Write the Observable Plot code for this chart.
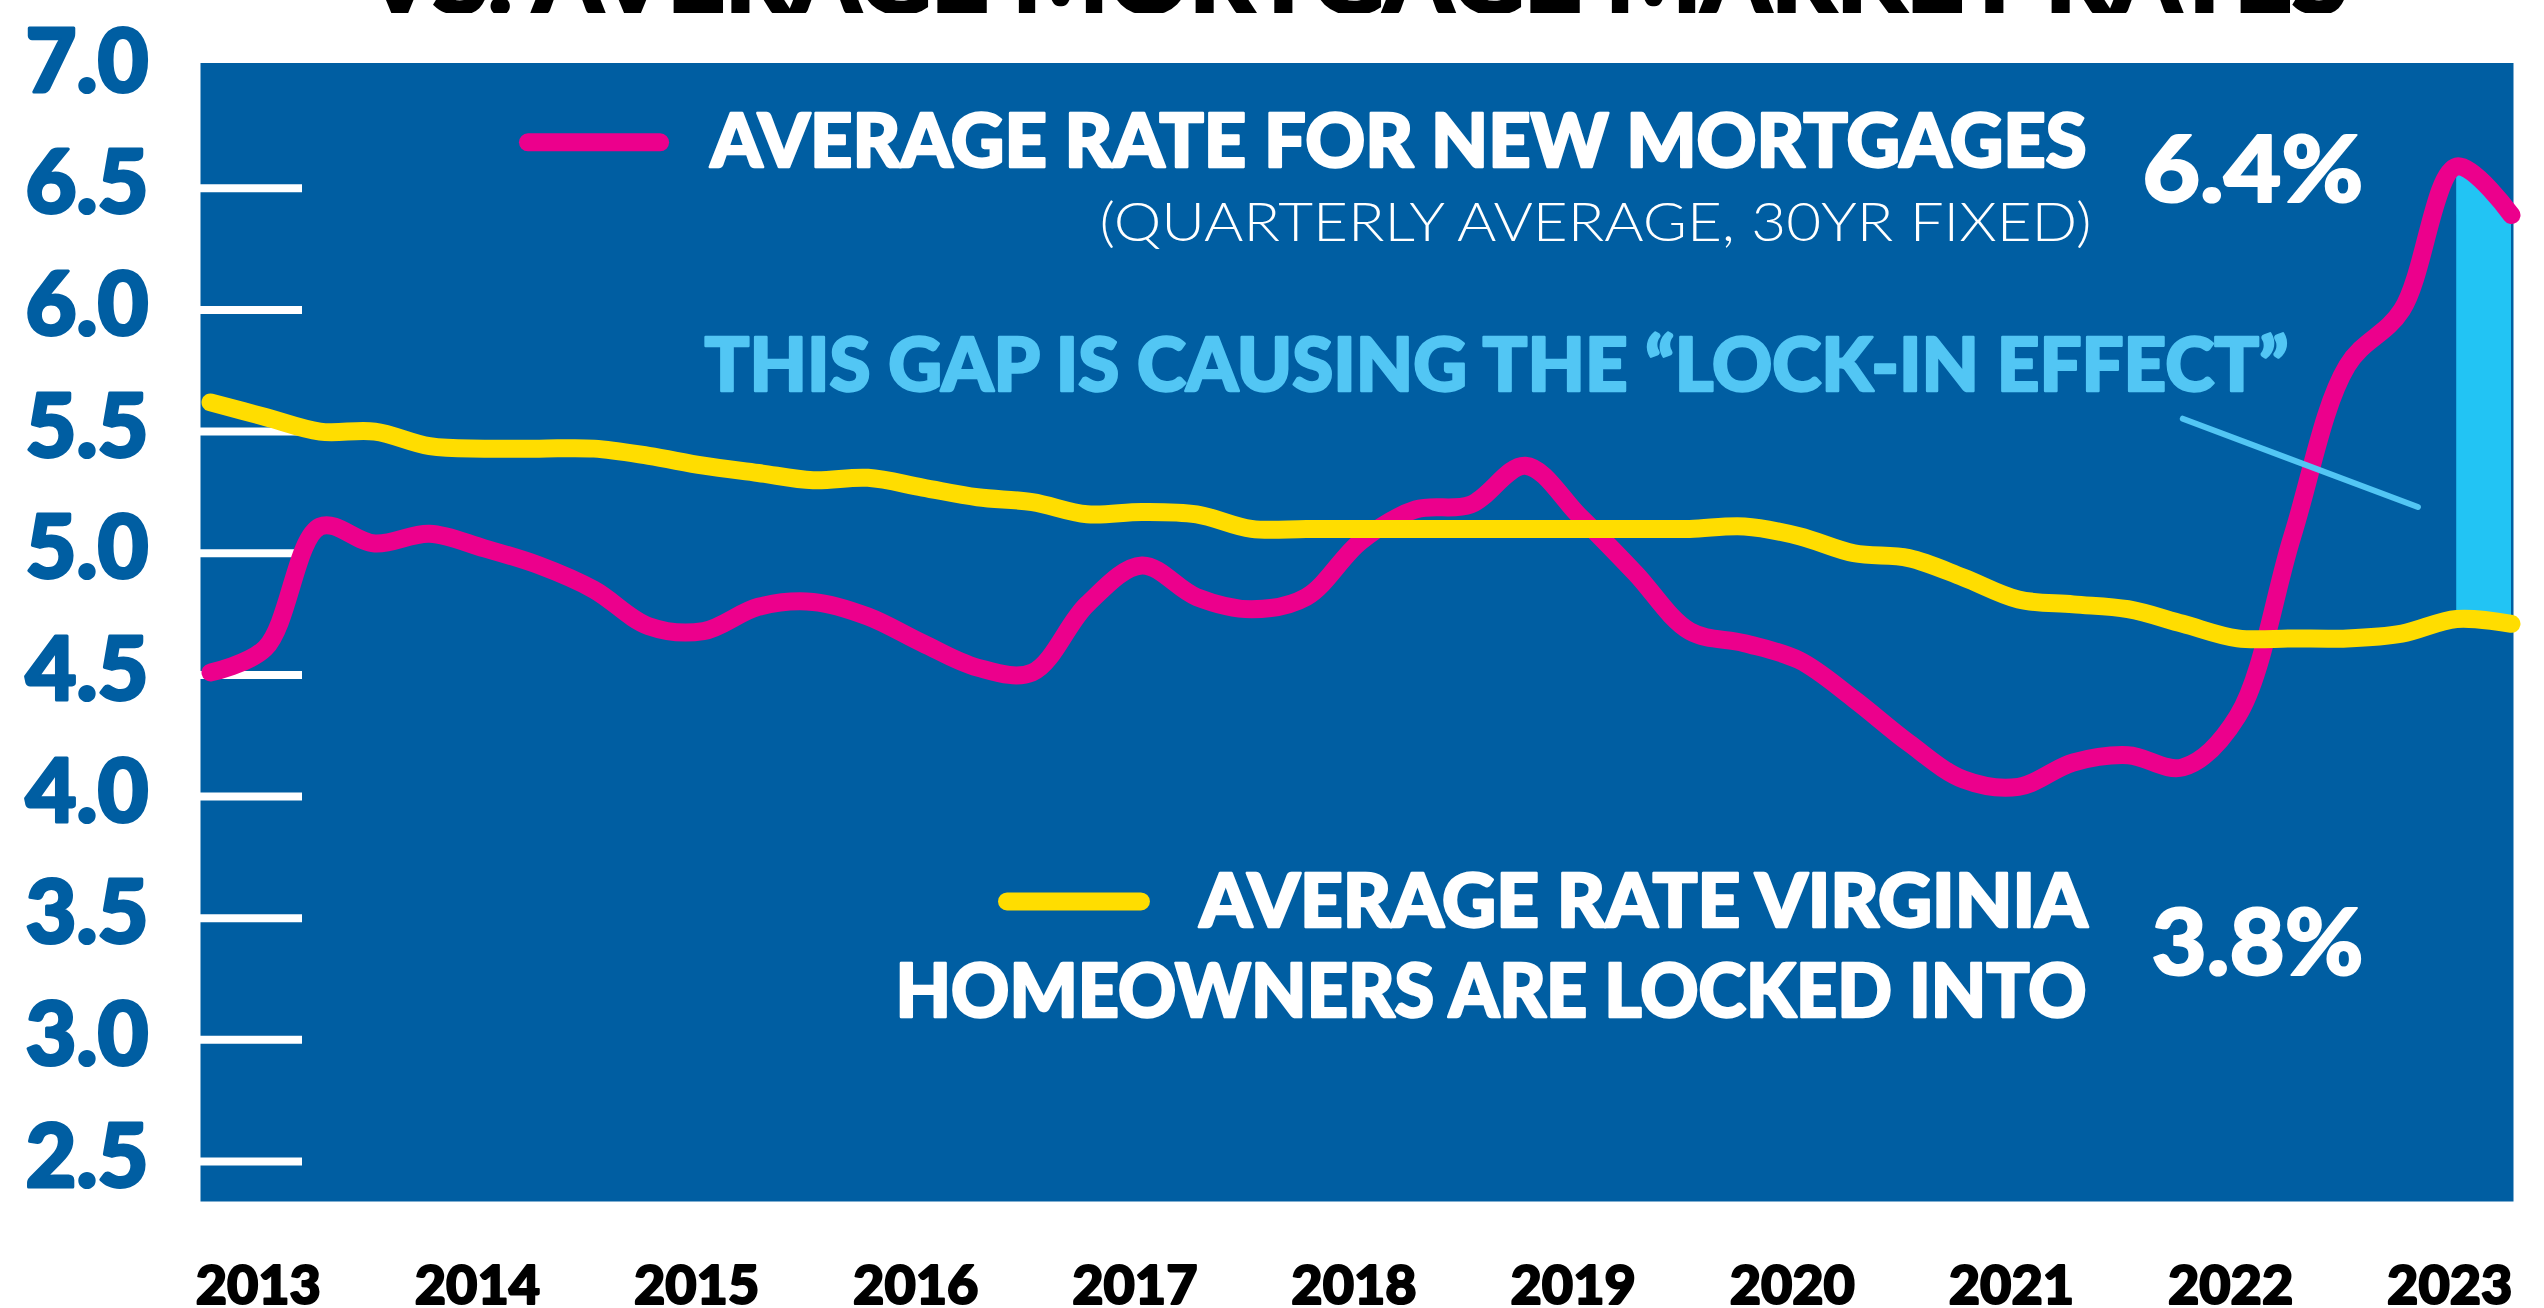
<!DOCTYPE html>
<html>
<head>
<meta charset="utf-8">
<script src="https://cdn.jsdelivr.net/npm/d3@7"></script>
<script src="https://cdn.jsdelivr.net/npm/@observablehq/plot@0.6"></script>
<style>
  html, body { margin: 0; padding: 0; background: #fff; overflow: hidden; }
  #title, #chart svg { display: block; }
</style>
</head>
<body>
<svg id="title" width="2544" height="13"></svg>
<div id="chart"></div>
<script>
// ---------- data ----------
const quarters = [
  "2012 Q4",
  "2013 Q1","2013 Q2","2013 Q3","2013 Q4",
  "2014 Q1","2014 Q2","2014 Q3","2014 Q4",
  "2015 Q1","2015 Q2","2015 Q3","2015 Q4",
  "2016 Q1","2016 Q2","2016 Q3","2016 Q4",
  "2017 Q1","2017 Q2","2017 Q3","2017 Q4",
  "2018 Q1","2018 Q2","2018 Q3","2018 Q4",
  "2019 Q1","2019 Q2","2019 Q3","2019 Q4",
  "2020 Q1","2020 Q2","2020 Q3","2020 Q4",
  "2021 Q1","2021 Q2","2021 Q3","2021 Q4",
  "2022 Q1","2022 Q2","2022 Q3","2022 Q4",
  "2023 Q1","2023 Q2"
];
// Average rate for new mortgages (quarterly average, 30yr fixed)
const newMortgageRate = [
  4.51,
  4.61, 5.11, 5.04, 5.08,
  5.02, 4.95, 4.85, 4.70,
  4.68, 4.78, 4.80, 4.74,
  4.63, 4.53, 4.51, 4.79,
  4.95, 4.82, 4.77, 4.82,
  5.05, 5.18, 5.20, 5.36,
  5.15, 4.92, 4.68, 4.63,
  4.56, 4.40, 4.22, 4.07,
  4.04, 4.14, 4.17, 4.12,
  4.33, 5.07, 5.77, 6.00,
  6.59, 6.39
];
// Average rate Virginia homeowners are locked into
const lockedInRate = [
  5.62,
  5.56, 5.50, 5.50, 5.44,
  5.43, 5.43, 5.43, 5.40,
  5.36, 5.33, 5.30, 5.31,
  5.27, 5.23, 5.21, 5.16,
  5.17, 5.16, 5.10, 5.10,
  5.10, 5.10, 5.10, 5.10,
  5.10, 5.10, 5.10, 5.11,
  5.07, 5.00, 4.98, 4.90,
  4.81, 4.79, 4.77, 4.71,
  4.65, 4.65, 4.65, 4.67,
  4.73, 4.71
];
const gapQuarters = ["2023 Q1", "2023 Q2"];
const yTickLabels = [2.5, 3.0, 3.5, 4.0, 4.5, 5.0, 5.5, 6.0, 6.5, 7.0];
const yTickLines = [2.5, 3.0, 3.5, 4.0, 4.5, 5.0, 5.5, 6.0, 6.5];
const yearTicks = [2013, 2014, 2015, 2016, 2017, 2018, 2019, 2020, 2021, 2022, 2023];

const titleText = "VS. AVERAGE MORTGAGE MARKET RATES";
const newLabel = "AVERAGE RATE FOR NEW MORTGAGES";
const newSubLabel = "(QUARTERLY AVERAGE, 30YR FIXED)";
const newValueLabel = "6.4%";
const gapLabel = "THIS GAP IS CAUSING THE \u201CLOCK-IN EFFECT\u201D";
const lockedLabel1 = "AVERAGE RATE VIRGINIA";
const lockedLabel2 = "HOMEOWNERS ARE LOCKED INTO";
const lockedValueLabel = "3.8%";

// ---------- styles ----------
const BLUE = "#005EA2", PINK = "#EC008C", YELLOW = "#FFDD00", SKY = "#52C6F4", CYAN = "#22C4F4";
const FONT = "Lato, 'Open Sans', 'DejaVu Sans', sans-serif";

// ---------- table ----------
const toYear = q => { const [y, n] = q.split(" Q"); return +y + (+n - 1) / 4; };
const rows = quarters.map((q, i) => ({q, t: toYear(q), newRate: newMortgageRate[i], locked: lockedInRate[i]}));
const gapRows = rows.filter(d => gapQuarters.includes(d.q));

// ---------- title (mostly cropped off at top, as in the source) ----------
const ns = "http://www.w3.org/2000/svg";
const tsvg = document.getElementById("title");
const tt = document.createElementNS(ns, "text");
tt.setAttribute("x", 1356);
tt.setAttribute("y", 12.5);
tt.setAttribute("text-anchor", "middle");
tt.setAttribute("font-family", FONT);
tt.setAttribute("font-weight", 900);
tt.setAttribute("font-size", 100);
tt.setAttribute("stroke", "black");
tt.setAttribute("stroke-width", 3);
tt.setAttribute("textLength", 1983);
tt.setAttribute("lengthAdjust", "spacingAndGlyphs");
tt.textContent = titleText;
tsvg.appendChild(tt);

// ---------- chart ----------
const note = (txt, o) => Plot.text([txt], {text: d => d, frameAnchor: "top-left", lineAnchor: "bottom", fontFamily: FONT, ...o});

const chart = Plot.plot({
  width: 2544,
  height: 1295,
  marginTop: 49.5,
  marginBottom: 107,
  marginLeft: 200,
  marginRight: 31,
  style: {background: "white", fontFamily: FONT},
  x: {domain: [2012.75, 2023.25], insetLeft: 10, insetRight: 2},
  y: {domain: [2.3356, 7.015]},
  marks: [
    Plot.frame({fill: BLUE, stroke: null}),
    Plot.axisY(yTickLines, {tickSize: -102, stroke: "white", strokeWidth: 8, fill: "none", label: null}),
    Plot.axisY(yTickLabels, {tickSize: 0, tickPadding: 52, tickFormat: d3.format(".1f"), fill: BLUE,
      textStroke: BLUE, textStrokeWidth: 3,
      fontSize: 88, fontWeight: 900, fontFamily: FONT, dy: -3, label: null}),
    Plot.axisX(yearTicks, {tickSize: 0, tickPadding: 64, tickFormat: "d", fill: "black", dx: -7,
      textStroke: "black", textStrokeWidth: 2,
      fontSize: 54, fontWeight: 900, fontFamily: FONT, label: null}),
    Plot.areaY(gapRows, {x: "t", y1: "locked", y2: "newRate", fill: CYAN}),
    Plot.line(rows, {x: "t", y: "newRate", stroke: PINK, strokeWidth: 18, curve: "catmull-rom",
      strokeLinecap: "round", strokeLinejoin: "round"}),
    Plot.line(rows, {x: "t", y: "locked", stroke: YELLOW, strokeWidth: 18, curve: "catmull-rom",
      strokeLinecap: "round", strokeLinejoin: "round"}),
    // legend keys
    Plot.ruleY([6.689], {x1: 2014.201, x2: 2014.804, stroke: PINK, strokeWidth: 18, strokeLinecap: "round"}),
    Plot.ruleY([3.569], {x1: 2016.387, x2: 2016.998, stroke: YELLOW, strokeWidth: 18, strokeLinecap: "round"}),
    // pointer to the gap
    Plot.link([0], {x1: 2021.750, y1: 5.553, x2: 2022.823, y2: 5.190, stroke: SKY, strokeWidth: 6, strokeLinecap: "round"}),
    // annotations
    note(newLabel, {dx: 1886, dy: 103.5, textAnchor: "end", fill: "white", stroke: "white", strokeWidth: 2.5, fontSize: 75, fontWeight: 900}),
    note(newSubLabel, {dx: 1891, dy: 177.5, textAnchor: "end", fill: "white", fontSize: 53, fontWeight: 300}),
    note(newValueLabel, {dx: 2163, dy: 139.2, textAnchor: "end", fill: "white", stroke: "white", strokeWidth: 2, fontSize: 91, fontWeight: 900}),
    note(gapLabel, {dx: 504, dy: 328.2, textAnchor: "start", fill: SKY, stroke: SKY, strokeWidth: 2.5, fontSize: 75, fontWeight: 900}),
    note(lockedLabel1, {dx: 1887, dy: 863.5, textAnchor: "end", fill: "white", stroke: "white", strokeWidth: 2.5, fontSize: 75, fontWeight: 900}),
    note(lockedLabel2, {dx: 1886, dy: 954, textAnchor: "end", fill: "white", stroke: "white", strokeWidth: 2.5, fontSize: 75, fontWeight: 900}),
    note(lockedValueLabel, {dx: 2163, dy: 911.5, textAnchor: "end", fill: "white", stroke: "white", strokeWidth: 2, fontSize: 91, fontWeight: 900})
  ]
});
document.getElementById("chart").appendChild(chart);

// fit annotation widths to the condensed lettering of the source
const widths = new Map([
  [newLabel, 1376], [newSubLabel, 992], [newValueLabel, 221], [gapLabel, 1584],
  [lockedLabel1, 888], [lockedLabel2, 1191], [lockedValueLabel, 212]
]);
chart.querySelectorAll("text").forEach(el => {
  const w = widths.get(el.textContent);
  if (w) { el.setAttribute("textLength", w); el.setAttribute("lengthAdjust", "spacingAndGlyphs"); }
});
</script>
</body>
</html>
